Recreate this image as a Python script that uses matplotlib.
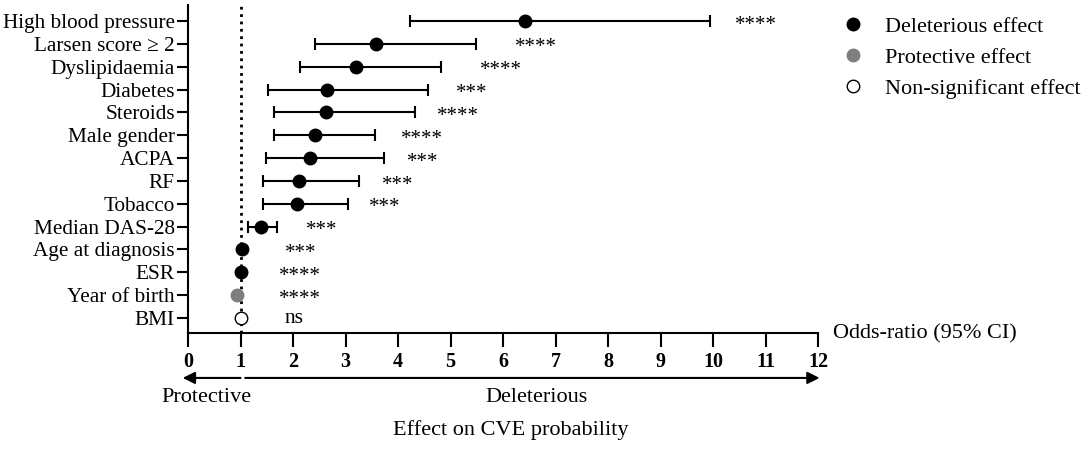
import numpy as np
import matplotlib
matplotlib.use('Agg')
from matplotlib import pyplot as plt
from matplotlib.lines import Line2D

plt.rcParams['font.family'] = ['Liberation Serif', 'DejaVu Serif']

labels = ['High blood pressure', 'Larsen score \u2265 2', 'Dyslipidaemia', 'Diabetes',
          'Steroids', 'Male gender', 'ACPA', 'RF', 'Tobacco', 'Median DAS-28',
          'Age at diagnosis', 'ESR', 'Year of birth', 'BMI']
odds = [6.42, 3.59, 3.20, 2.64, 2.62, 2.42, 2.32, 2.11, 2.08, 1.39, 1.03, 1.01, 0.94, 1.00]
ci_lo = [4.23, 2.41, 2.13, 1.52, 1.64, 1.64, 1.48, 1.42, 1.43, 1.15, 1.02, 1.00, 0.93, 0.98]
ci_hi = [9.95, 5.49, 4.82, 4.58, 4.33, 3.57, 3.73, 3.25, 3.04, 1.69, 1.04, 1.02, 0.95, 1.02]
signif = ['****', '****', '****', '***', '****', '****', '***', '***', '***', '***',
          '***', '****', '****', 'ns']
effect = ['del'] * 12 + ['prot', 'ns']

# where the significance labels sit (x, data units)
sig_x = [10.42, 6.22, 5.57, 5.11, 4.75, 4.06, 4.18, 3.70, 3.44, 2.24, 1.84, 1.74, 1.74, 1.83]

face = {'del': 'black', 'prot': '#7f7f7f', 'ns': 'white'}
edge = {'del': 'black', 'prot': '#7f7f7f', 'ns': 'black'}

fig = plt.figure(figsize=(10.84, 4.49), dpi=100)
ax = fig.add_axes([188/1084, 116/449, 630/1084, 328/449])

n = len(labels)
ypos = np.arange(n)[::-1]

ax.axvline(1, color='black', ls=':', lw=2, zorder=1)

for i in range(n):
    lo = odds[i] - ci_lo[i]
    hi = ci_hi[i] - odds[i]
    if lo > 0.05:
        ax.errorbar(odds[i], ypos[i], xerr=[[lo], [hi]], fmt='none', ecolor='black',
                    elinewidth=1.5, capsize=4, capthick=1.5, zorder=2)
    ax.plot(odds[i], ypos[i], 'o', ms=9, mfc=face[effect[i]], mec=edge[effect[i]],
            mew=1, zorder=3)
    if signif[i] == 'ns':
        ax.text(sig_x[i], ypos[i], signif[i], fontsize=15.5, ha='left', va='center')
    else:
        ax.text(sig_x[i], ypos[i] - 0.18, signif[i], fontsize=15, ha='left', va='center')

ax.set_xlim(0, 12)
ax.set_ylim(-0.656, 13.70)
ax.set_xticks(range(13))
ax.set_xticklabels([str(i) for i in range(13)], fontweight='bold', fontsize=14.5)
ax.set_yticks(ypos)
ax.set_yticklabels(labels, fontsize=15.3)
ax.tick_params(axis='x', length=10, width=1.5, pad=3.5)
ax.tick_params(axis='y', length=8, width=1.5, pad=1.5)
for s in ['top', 'right']:
    ax.spines[s].set_visible(False)
for s in ['left', 'bottom']:
    ax.spines[s].set_linewidth(1.5)

tr = ax.get_xaxis_transform()
ax.annotate('', xy=(-0.1, -0.137), xytext=(1.0, -0.137), xycoords=tr, textcoords=tr,
            arrowprops=dict(arrowstyle='-|>', mutation_scale=18, lw=1.5, color='black',
                            shrinkA=0, shrinkB=0), annotation_clip=False)
ax.annotate('', xy=(12.03, -0.137), xytext=(1.09, -0.137), xycoords=tr, textcoords=tr,
            arrowprops=dict(arrowstyle='-|>', mutation_scale=18, lw=1.5, color='black',
                            shrinkA=0, shrinkB=0), annotation_clip=False)
ax.text(0.36, -0.198, 'Protective', transform=tr, ha='center', va='center', fontsize=16)
ax.text(6.63, -0.198, 'Deleterious', transform=tr, ha='center', va='center', fontsize=16)
ax.text(6.15, -0.296, 'Effect on CVE probability', transform=tr, ha='center', va='center',
        fontsize=16)
fig.text(833/1084, 1 - 334/449, 'Odds-ratio (95% CI)', ha='left', va='center', fontsize=16)

handles = [Line2D([], [], ls='none', marker='o', ms=9, mfc=face[k], mec=edge[k], mew=1)
           for k in ['del', 'prot', 'ns']]
fig.legend(handles, ['Deleterious effect', 'Protective effect', 'Non-significant effect'],
           loc='upper left', bbox_to_anchor=(842/1084, 1 - 16/449), frameon=False,
           fontsize=16, handlelength=1.0, handletextpad=0.94, labelspacing=0.48,
           borderpad=0, borderaxespad=0)

plt.savefig('out.png', dpi=100)
